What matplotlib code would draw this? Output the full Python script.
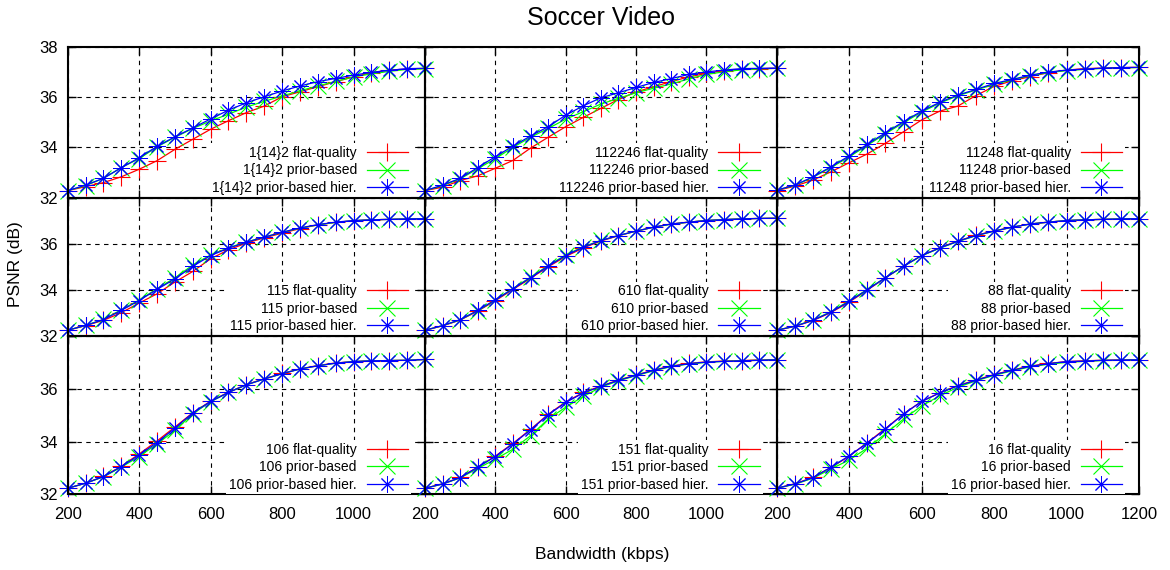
import matplotlib

matplotlib.use("Agg")
import matplotlib.pyplot as plt
import matplotlib.transforms as mtransforms

plt.rcParams["font.family"] = ["Liberation Sans", "DejaVu Sans"]

# bandwidth samples (kbps)
bandwidth = [200, 250, 300, 350, 400, 450, 500, 550, 600, 650, 700,
             750, 800, 850, 900, 950, 1000, 1050, 1100, 1150, 1200]

panel_names = ["1{14}2", "112246", "11248", "115", "610", "88", "106", "151", "16"]

# PSNR (dB) per panel: flat-quality, prior-based, prior-based hier.
flat_1_14_2 = [32.28, 32.44, 32.60, 32.83, 33.13, 33.47, 33.92, 34.32, 34.72, 35.06, 35.38,
               35.64, 36.01, 36.21, 36.41, 36.61, 36.80, 36.97, 37.07, 37.11, 37.14]
prior_1_14_2 = [32.28, 32.48, 32.77, 33.20, 33.55, 34.02, 34.40, 34.75, 35.05, 35.32, 35.60,
                35.83, 36.04, 36.25, 36.44, 36.62, 36.80, 36.92, 37.02, 37.10, 37.12]
hier_1_14_2 = [32.28, 32.50, 32.77, 33.19, 33.59, 34.04, 34.42, 34.77, 35.13, 35.48, 35.77,
               36.01, 36.24, 36.44, 36.61, 36.74, 36.87, 36.98, 37.06, 37.13, 37.14]

flat_112246 = [32.28, 32.42, 32.68, 32.87, 33.17, 33.48, 33.97, 34.40, 34.82, 35.19, 35.55,
               35.90, 36.20, 36.41, 36.61, 36.80, 36.94, 37.05, 37.10, 37.13, 37.14]
prior_112246 = [32.28, 32.48, 32.75, 33.15, 33.55, 34.00, 34.40, 34.75, 35.12, 35.42, 35.72,
                35.95, 36.17, 36.35, 36.52, 36.72, 36.90, 37.00, 37.08, 37.12, 37.14]
hier_112246 = [32.28, 32.50, 32.77, 33.20, 33.63, 34.05, 34.45, 34.82, 35.28, 35.65, 35.97,
               36.17, 36.38, 36.58, 36.73, 36.90, 37.00, 37.07, 37.13, 37.14, 37.15]

flat_11248 = [32.28, 32.46, 32.70, 33.03, 33.39, 33.74, 34.16, 34.62, 35.09, 35.44, 35.64,
              36.06, 36.42, 36.65, 36.81, 36.97, 37.07, 37.13, 37.15, 37.17, 37.18]
prior_11248 = [32.30, 32.49, 32.81, 33.20, 33.62, 34.08, 34.54, 34.98, 35.40, 35.76, 36.05,
               36.28, 36.50, 36.68, 36.85, 36.97, 37.05, 37.10, 37.14, 37.16, 37.17]
hier_11248 = [32.30, 32.50, 32.83, 33.23, 33.66, 34.12, 34.58, 35.02, 35.44, 35.79, 36.08,
              36.30, 36.54, 36.70, 36.87, 36.99, 37.07, 37.11, 37.15, 37.17, 37.18]

flat_115 = [32.25, 32.45, 32.68, 33.01, 33.43, 33.83, 34.34, 34.80, 35.35, 35.74, 36.03,
            36.26, 36.46, 36.66, 36.82, 36.93, 37.00, 37.04, 37.06, 37.08, 37.09]
prior_115 = [32.25, 32.46, 32.72, 33.14, 33.56, 34.05, 34.52, 35.08, 35.52, 35.83, 36.08,
             36.29, 36.50, 36.68, 36.82, 36.93, 37.00, 37.04, 37.06, 37.08, 37.09]
hier_115 = [32.25, 32.46, 32.71, 33.11, 33.54, 34.02, 34.48, 35.02, 35.49, 35.81, 36.07,
            36.29, 36.50, 36.69, 36.83, 36.94, 37.01, 37.04, 37.06, 37.08, 37.09]

flat_610 = [32.25, 32.44, 32.69, 33.08, 33.53, 34.02, 34.50, 35.00, 35.45, 35.82, 36.12,
            36.35, 36.55, 36.72, 36.86, 36.94, 37.01, 37.05, 37.08, 37.10, 37.11]
prior_610 = [32.25, 32.45, 32.70, 33.10, 33.56, 34.06, 34.55, 35.05, 35.52, 35.87, 36.15,
             36.36, 36.55, 36.72, 36.85, 36.94, 37.01, 37.05, 37.08, 37.10, 37.11]
hier_610 = [32.25, 32.45, 32.71, 33.11, 33.57, 34.05, 34.53, 35.03, 35.49, 35.85, 36.14,
            36.36, 36.55, 36.72, 36.86, 36.94, 37.01, 37.05, 37.08, 37.10, 37.11]

flat_88 = [32.25, 32.42, 32.67, 33.02, 33.47, 33.99, 34.52, 35.03, 35.49, 35.83, 36.12,
           36.37, 36.56, 36.72, 36.86, 36.94, 37.01, 37.04, 37.06, 37.08, 37.09]
prior_88 = [32.25, 32.43, 32.69, 33.06, 33.52, 34.02, 34.53, 35.02, 35.48, 35.81, 36.10,
            36.35, 36.55, 36.72, 36.86, 36.94, 37.01, 37.04, 37.06, 37.08, 37.09]
hier_88 = [32.25, 32.42, 32.68, 33.04, 33.50, 34.01, 34.53, 35.03, 35.49, 35.82, 36.11,
           36.36, 36.55, 36.72, 36.86, 36.94, 37.01, 37.04, 37.06, 37.08, 37.09]

flat_106 = [32.23, 32.42, 32.68, 33.06, 33.53, 34.02, 34.55, 35.09, 35.53, 35.87, 36.16,
            36.38, 36.58, 36.75, 36.88, 36.98, 37.03, 37.06, 37.07, 37.08, 37.11]
prior_106 = [32.23, 32.42, 32.66, 33.03, 33.43, 33.91, 34.42, 35.05, 35.51, 35.86, 36.15,
             36.37, 36.57, 36.75, 36.87, 36.97, 37.03, 37.06, 37.07, 37.08, 37.11]
hier_106 = [32.23, 32.42, 32.67, 33.05, 33.49, 33.96, 34.51, 35.08, 35.52, 35.86, 36.15,
            36.37, 36.57, 36.75, 36.87, 36.97, 37.03, 37.06, 37.07, 37.08, 37.11]

flat_151 = [32.23, 32.40, 32.64, 33.03, 33.45, 33.93, 34.46, 35.03, 35.50, 35.86, 36.10,
            36.33, 36.52, 36.71, 36.86, 36.96, 37.02, 37.05, 37.07, 37.09, 37.10]
prior_151 = [32.23, 32.39, 32.62, 32.98, 33.33, 33.71, 34.22, 34.85, 35.30, 35.71, 36.06,
             36.30, 36.50, 36.68, 36.84, 36.94, 37.00, 37.04, 37.06, 37.08, 37.10]
hier_151 = [32.23, 32.39, 32.63, 33.03, 33.43, 33.91, 34.44, 35.01, 35.48, 35.84, 36.09,
            36.32, 36.51, 36.70, 36.85, 36.95, 37.01, 37.04, 37.06, 37.08, 37.10]

flat_16 = [32.23, 32.40, 32.64, 33.02, 33.44, 33.96, 34.49, 35.05, 35.52, 35.85, 36.12,
           36.33, 36.54, 36.71, 36.86, 36.96, 37.03, 37.06, 37.08, 37.09, 37.10]
prior_16 = [32.23, 32.38, 32.61, 32.96, 33.30, 33.75, 34.29, 34.85, 35.35, 35.73, 36.06,
            36.30, 36.51, 36.68, 36.83, 36.93, 37.00, 37.04, 37.07, 37.08, 37.10]
hier_16 = [32.23, 32.39, 32.63, 33.03, 33.46, 33.94, 34.47, 35.04, 35.52, 35.84, 36.11,
           36.32, 36.53, 36.70, 36.85, 36.95, 37.03, 37.05, 37.08, 37.09, 37.10]

flat_series = [flat_1_14_2, flat_112246, flat_11248, flat_115, flat_610,
               flat_88, flat_106, flat_151, flat_16]
prior_series = [prior_1_14_2, prior_112246, prior_11248, prior_115, prior_610,
                prior_88, prior_106, prior_151, prior_16]
hier_series = [hier_1_14_2, hier_112246, hier_11248, hier_115, hier_610,
               hier_88, hier_106, hier_151, hier_16]

x_ticks = [200, 400, 600, 800, 1000, 1200]
y_ticks = [32, 34, 36, 38]

W, H = 1170, 570
fig = plt.figure(figsize=(W / 100, H / 100), dpi=100)
fig.patch.set_facecolor("white")
gs = fig.add_gridspec(
    3, 3,
    left=67.7 / W, right=1139 / W, top=1 - 46.7 / H, bottom=1 - 494.3 / H,
    wspace=0, hspace=0,
    width_ratios=[357.3, 351.7, 362.3], height_ratios=[151, 138.3, 158.3],
)

asterisk = (8, 2, 0)
for idx, name in enumerate(panel_names):
    row, col = divmod(idx, 3)
    ax = fig.add_subplot(gs[row, col])
    ax.set_facecolor("none")
    ax.set_axisbelow(True)

    ax.plot(bandwidth, flat_series[idx], color="#ff0000", lw=0.9, marker="+", ms=13,
            mew=0.8, clip_on=False, label=f"{name} flat-quality")
    ax.plot(bandwidth, prior_series[idx], color="#00ff00", lw=0.9, marker="x", ms=11,
            mew=0.8, clip_on=False, label=f"{name} prior-based")
    ax.plot(bandwidth, hier_series[idx], color="#0000ff", lw=0.9, marker=asterisk, ms=12,
            mew=0.7, clip_on=False, label=f"{name} prior-based hier.")

    ax.set_xlim(200, 1200)
    ax.set_ylim(32, 38)
    ax.set_xticks(x_ticks)
    ax.set_yticks(y_ticks)
    ax.grid(True, color="black", lw=0.8, linestyle=(0, (4, 4)))
    ax.tick_params(direction="in", length=6, width=1, top=True, right=True,
                   labelsize=12, colors="black")
    ax.tick_params(axis="x", pad=9)
    ax.tick_params(axis="y", pad=7)
    for spine in ax.spines.values():
        spine.set_linewidth(1.5)
        spine.set_color("black")

    if col == 0:
        ax.set_yticklabels(["32", "34", "36", "38"] if row == 0 else ["32", "34", "36", ""])
    else:
        ax.set_yticklabels([])
    if row == 2:
        ax.set_xticklabels(["200", "400", "600", "800", "1000", "1200" if col == 2 else ""])
    else:
        ax.set_xticklabels([])

    shift = mtransforms.ScaledTranslation(-0.14, 0.0, fig.dpi_scale_trans)
    leg = ax.legend(loc="lower right", bbox_to_anchor=(1, 0),
                    bbox_transform=ax.transAxes + shift,
                    borderaxespad=0, borderpad=0.2, markerfirst=False, fontsize=10,
                    handlelength=3.0, handletextpad=0.7, labelspacing=0.25,
                    frameon=True, fancybox=False, facecolor="white", framealpha=1)
    leg.get_frame().set_linewidth(0)

fig.text(600.8 / W, 1 - 18 / H, "Soccer Video", ha="center", va="center", fontsize=18)
fig.text(601.7 / W, 1 - 555 / H, "Bandwidth (kbps)", ha="center", va="center", fontsize=12.5)
fig.text(16 / W, 1 - 264 / H, "PSNR (dB)", ha="center", va="center", rotation=90, fontsize=12.5)

fig.savefig("out.png", dpi=100, facecolor="white")
